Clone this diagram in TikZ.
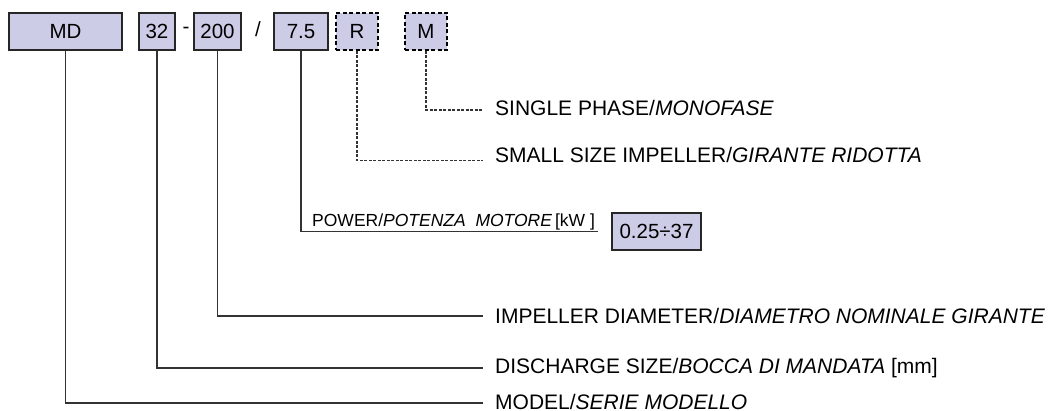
\documentclass[tikz,border=0pt]{standalone}
\usepackage{fontspec}
\setmainfont{Liberation Sans}
\definecolor{boxfill}{RGB}{204,204,230}
\begin{document}
\begin{tikzpicture}[x=1pt,y=-1pt,
  code/.style={draw=black!85,line width=1.3pt,fill=boxfill,minimum height=37pt,inner sep=0pt,font=\fontsize{20.5}{24}\selectfont},
  opt/.style={code,draw=black,line width=1.8pt,dash pattern=on 4pt off 2.5pt},
  lbl/.style={anchor=west,inner xsep=12pt,inner ysep=0pt,text height=15pt,text depth=0pt,font=\fontsize{21}{25}\selectfont},
  ln/.style={line width=1.2pt,draw=black!80},
  dln/.style={ln,dash pattern=on 3pt off 1.5pt}]
\useasboundingbox (0,0) rectangle (1054,411);
% code boxes
\node[code,minimum width=113pt] (md) at (65.5,31.5) {MD};
\node[code,minimum width=36pt] (n32) at (157,31.5) {32};
\node[font=\fontsize{20.5}{24}\selectfont] (dash) at (186,30.5) {-};
\node[code,minimum width=47pt] (n200) at (217.5,31.5) {200};
\node[font=\fontsize{20.5}{24}\selectfont] (slash) at (258,29.5) {/};
\node[code,minimum width=54pt] (n75) at (301,31.5) {7.5};
\node[opt,minimum width=42pt] (r) at (357,31.5) {R};
\node[opt,minimum width=42pt] (m) at (426,31.5) {M};
% labels
\node[lbl] (mono) at (483,108) {SINGLE PHASE/\textit{MONOFASE}};
\node[lbl] (small) at (483,155.5) {SMALL SIZE IMPELLER/\textit{GIRANTE RIDOTTA}};
\node[anchor=base west,inner xsep=0pt,inner ysep=0pt,text depth=4pt,font=\fontsize{17.5}{20}\selectfont] (pwr) at (312,227) {POWER/\textit{POTENZA\ \ MOTORE}\,[kW\ ]};
\node[code,minimum width=89pt] (range) at (656.5,231.5) {0.25÷37};
\node[lbl] (imp) at (483,316) {IMPELLER DIAMETER/\textit{DIAMETRO NOMINALE GIRANTE}};
\node[lbl] (disch) at (483,366) {DISCHARGE SIZE/\textit{BOCCA DI MANDATA} [mm]};
\node[lbl] (model) at (483,401.5) {MODEL/\textit{SERIE MODELLO}};
% connectors
\draw[dln] (m.south) |- ([yshift=-2pt]mono.west);
\draw[dln] (r.south) |- ([yshift=-5pt]small.west);
\draw[ln] (n75.south) |- ([xshift=3pt]pwr.south east);
\draw[ln] (n200.south) |- (imp.west);
\draw[ln] (n32.south) |- ([yshift=-2pt]disch.west);
\draw[ln] (md.south) |- ([yshift=-1.5pt]model.west);
\end{tikzpicture}
\end{document}
